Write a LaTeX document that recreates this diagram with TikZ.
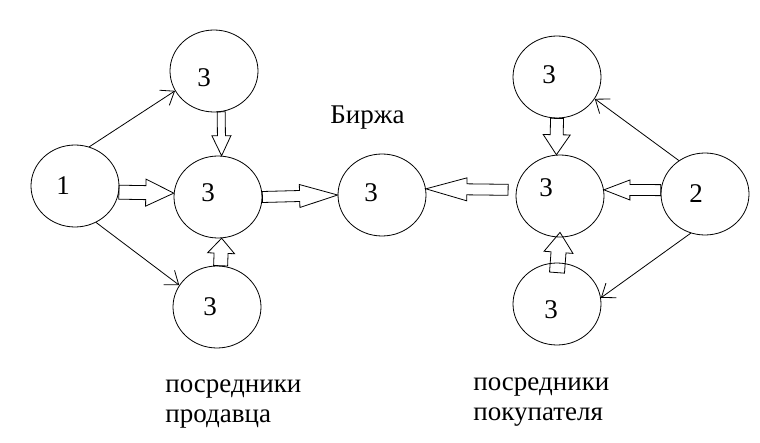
\documentclass[tikz,border=0pt]{standalone}
\usepackage{fontspec}
\setmainfont{Liberation Serif}
\usepackage{tikz}
\usetikzlibrary{arrows.meta, positioning, calc, shapes}

\tikzset{
  fatshaft/.store in=\fatshaft, fatshaft=6pt,
  fatwing/.store in=\fatwing, fatwing=12pt,
  fathead/.store in=\fathead, fathead=24pt,
  blockarrow/.style={to path={
      ($(\tikztotarget)!\fathead!(\tikztostart)$) coordinate (fa-h)
      ($(\tikztostart)!\fatshaft!90:(\tikztotarget)$)
      -- ($(fa-h)!\fatshaft!-90:(\tikztostart)$)
      -- ($(fa-h)!\fatwing!-90:(\tikztostart)$)
      -- (\tikztotarget)
      -- ($(fa-h)!\fatwing!90:(\tikztostart)$)
      -- ($(fa-h)!\fatshaft!90:(\tikztostart)$)
      -- ($(\tikztostart)!\fatshaft!-90:(\tikztotarget)$)
      -- cycle}},
  agent/.style 2 args={ellipse, draw, minimum width=88pt, minimum height=82pt,
    inner sep=0pt, label={[shift={#2}]center:#1}},
  feed/.style={-{Straight Barb[length=12pt,width=18pt]}}
}

\begin{document}
\begin{tikzpicture}[x=1pt, y=-1pt, line width=0.8pt,
    font=\fontsize{27}{30}\selectfont]
        \useasboundingbox (0,0) rectangle (760,443);

        % Define the circles
        \node[agent={1}{(-12,0)}] (S) at (75,186) {};
        \node[agent={3}{(-10,7)}] (S1) at (214,71) {};
        \node[agent={3}{(-10,-4)}] (S2) at (218,197) {};
        \node[agent={3}{(-7,0)}] (S3) at (217,307) {};

        \node[agent={3}{(-11,-2)}] (E) at (382,195) {};

        \node[agent={3}{(-8,-2)}] (B1) at (557,77) {};
        \node[agent={3}{(-14,-8)}] (B2) at (560,196) {};
        \node[agent={3}{(-6,6)}] (B3) at (557,304) {};
        \node[agent={2}{(-9,0)}] (B) at (705,194) {};

        % Draw block arrows
        \draw[blockarrow, fathead=28pt, fatshaft=7pt, fatwing=13.5pt] (S.-8) to (S2.175);
        \draw[blockarrow, fathead=20pt, fatshaft=4pt, fatwing=9.5pt] (S1.-80) to (S2.85);
        \draw[blockarrow, fathead=15pt, fatshaft=7pt, fatwing=13.5pt] (S3.85) to (S2.-85);
        \draw[blockarrow, fathead=38pt, fatshaft=5.5pt, fatwing=11.5pt] (S2.east) to (E.west);

        \draw[blockarrow, fathead=41pt, fatshaft=5.5pt, fatwing=11.5pt] ($(B2.172)+(-8,0)$) to (E.8);
        \draw[blockarrow, fathead=26pt, fatshaft=5.5pt, fatwing=10pt] (B.175) to (B2.8);
        \draw[blockarrow, fathead=20pt, fatshaft=6.5pt, fatwing=13.5pt] (B1.south) to (B2.95);
        \draw[blockarrow, fathead=20pt, fatshaft=7.5pt, fatwing=14.5pt] ($(B3.north)+(0,10)$) to ($(B2.south)+(0,-5)$);

        % Draw thin arrows
        \draw[feed] (S.70) -- (S1.207);
        \draw[feed] (S.-60) -- (S3.150);
        \draw[feed] (B.128) -- (B1.-30);
        \draw[feed] (B.-110) -- (B3.8);

        % Draw labels
        \node[anchor=base west, inner sep=0pt] (Ex) at (330,124) {Биржа};
        \node[anchor=base west, inner sep=0pt, align=left] (Sl) at (165,422) {посредники\\продавца};
        \node[anchor=base west, inner sep=0pt, align=left] (Bl) at (473,420) {посредники\\покупателя};
    \end{tikzpicture}
\end{document}
